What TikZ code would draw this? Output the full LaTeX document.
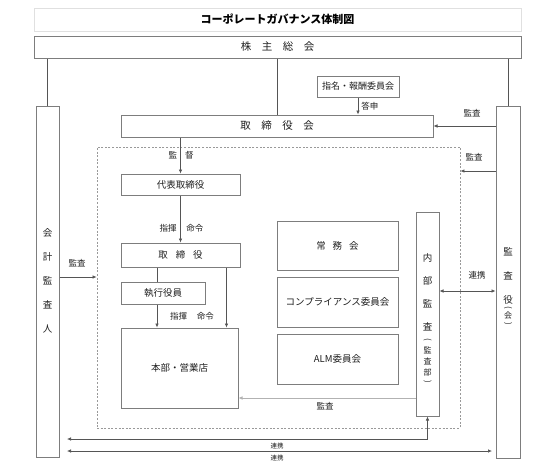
\documentclass[tikz,border=0pt]{standalone}
\usepackage{fontspec}
\setmainfont{Noto Sans CJK JP}
\usetikzlibrary{arrows.meta,positioning,calc}
\definecolor{boxline}{RGB}{125,125,125}
\definecolor{conline}{RGB}{85,85,85}
\definecolor{txt}{RGB}{30,30,30}
\tikzset{%
  box/.style = { draw=boxline, line width=1pt, inner sep=0pt, text=txt, font=\fontsize{9.5}{9.5}\selectfont },
  titlebox/.style = { draw=black!12, line width=1pt, inner sep=0pt, font=\bfseries\fontsize{11}{11}\selectfont },
  area/.style = { draw=black!40, line width=0.8pt, dash pattern=on 2pt off 1.6pt, inner sep=0pt },
  con/.style = { draw=conline, line width=0.7pt },
  tip/.style = { -{Latex[length=4pt,width=3.6pt]} },
  arr/.style = { con, tip },
  darr/.style = { con, {Latex[length=4pt,width=3.6pt]}-{Latex[length=4pt,width=3.6pt]} },
  lab/.style = { text=txt, inner sep=1pt, font=\fontsize{8.5}{8.5}\selectfont },
  tiny/.style = { text=txt, inner sep=0pt, font=\fontsize{6.5}{6.5}\selectfont },
  vch/.style = { text=txt, inner sep=0pt, font=\fontsize{9.5}{9.5}\selectfont },
  vsm/.style = { text=txt, inner sep=0pt, font=\fontsize{8}{8}\selectfont }
}

\begin{document}
\begin{tikzpicture}[x=1pt, y=-1pt]

  \useasboundingbox (0,0) rectangle (533,474);

  % Title and top level
  \node[titlebox, minimum width=487, minimum height=23] (title) at (277.5,19.5) {コーポレートガバナンス体制図};
  \node[box, minimum width=487, minimum height=22, font=\fontsize{10.5}{10.5}\selectfont] (soukai) at (277.5,47) {株　主　総　会};

  \node[box, minimum width=23, minimum height=351] (kaikei) at (47.5,281.5) {};
  \node[box, minimum width=24, minimum height=352] (kansayaku) at (508,282) {};

  \node[box, minimum width=82, minimum height=21, font=\fontsize{9}{9}\selectfont] (shimei) at (358,86.5) {指名・報酬委員会};
  \node[box, minimum width=312, minimum height=22, font=\fontsize{10.5}{10.5}\selectfont] (yakukai) at (277,126) {取　締　役　会};

  % Executive area
  \node[area, minimum width=363, minimum height=281] (area) at (278.5,287.5) {};

  \node[box, minimum width=119, minimum height=21] (daihyo) at (180.5,184.5) {代表取締役};
  \node[box, minimum width=119, minimum height=24] (yaku) at (180.5,255) {取\hspace{8pt}締\hspace{8pt}役};
  \node[box, minimum width=84, minimum height=22] (shikkou) at (163,293) {執行役員};
  \node[box, minimum width=117, minimum height=80] (honbu) at (179.5,368) {本部・営業店};

  \node[box, minimum width=121, minimum height=49] (jomu) at (337.5,245.5) {常\hspace{7pt}務\hspace{7pt}会};
  \node[box, minimum width=121, minimum height=50] (comp) at (337.5,302) {コンプライアンス委員会};
  \node[box, minimum width=121, minimum height=50] (alm) at (337.5,359) {ALM委員会};

  \node[box, minimum width=23, minimum height=204] (naibu) at (427.5,314) {};

  % Vertical texts
  \foreach \ch [count=\i] in {会,計,監,査,人} {
    \node[vch] (kaikei-\i) at (47.5,233+24*\i-24) {\ch};
  }

  \foreach \ch [count=\i] in {監,査,役} {
    \node[vch] (kansa-\i) at (508,252+24*\i-24) {\ch};
  }
  \node[vsm, rotate=-90] (kansa-p1) at (508,308) {(};
  \node[vsm] (kansa-4) at (508,315.5) {会};
  \node[vsm, rotate=-90] (kansa-p2) at (508,323.5) {)};

  \foreach \ch [count=\i] in {内,部,監,査} {
    \node[vch] (naibu-\i) at (427.5,258+23*\i-23) {\ch};
  }
  \node[vsm, rotate=-90] (naibu-p1) at (427.5,340) {(};
  \foreach \ch [count=\i] in {監,査,部} {
    \node[vsm] (naibu-s\i) at (427.5,350+11*\i-11) {\ch};
  }
  \node[vsm, rotate=-90] (naibu-p2) at (427.5,382) {)};

  % Helper levels
  \coordinate (kansa2) at (470,171);
  \coordinate (kansa3) at (77,277);
  \coordinate (renkei1) at (467,291);
  \coordinate (kansa4) at (325,398);
  \coordinate (rkL1) at (67,439);
  \coordinate (rkL2) at (67,451);
  \coordinate (rkR2) at (492,451);

  % Connectors
  \draw[con] (soukai.south -| kaikei.north) -- (kaikei.north);
  \draw[con] (soukai.south -| kansayaku.north) -- (kansayaku.north);
  \draw[con] (soukai.south) -- (soukai.south |- yakukai.north);

  \draw[arr] (shimei.south) -- (shimei.south |- yakukai.north) node[lab, midway, right=2pt] (ltoushin) {答申};
  \draw[arr] (kansayaku.west |- yakukai.east) -- (yakukai.east);
  \node[lab] (lkansa1) at (472,113) {監査};

  \draw[arr] (yakukai.south -| daihyo.north) -- (daihyo.north);
  \node[lab] (lkantoku) at (181,155.5) {監\hspace{8pt}督};

  \draw[arr] (kansayaku.west |- kansa2) -- (area.east |- kansa2);
  \node[lab] (lkansa2) at (474,157) {監査};

  \draw[arr] (daihyo.south) -- (yaku.north);
  \node[lab] (lshiki1) at (181.5,228) {指揮\hspace{10pt}命令};

  \draw[con] ([xshift=-6pt]shikkou.north |- yaku.south) -- ([xshift=-6pt]shikkou.north);
  \draw[arr] ([xshift=-6pt]shikkou.south) -- ([xshift=-6pt]shikkou.south |- honbu.north);
  \draw[arr] ([xshift=-14pt]yaku.south east) -- ([xshift=-14pt]yaku.south east |- honbu.north);
  \node[lab] (lshiki2) at (192,316) {指揮\hspace{10pt}命令};

  \draw[arr] (kaikei.east |- kansa3) -- (area.west |- kansa3);
  \node[lab] (lkansa3) at (77,263) {監査};

  \draw[darr] (naibu.east |- renkei1) -- (kansayaku.west |- renkei1);
  \node[lab] (lrenkei1) at (477,275.5) {連携};

  \draw[con, draw=black!30, tip] (naibu.west |- kansa4) -- (honbu.east |- kansa4);
  \node[lab] (lkansa4) at (325,406.5) {監査};

  \draw[darr] (rkL1) -| (naibu.south);
  \node[tiny] (lrenkei2) at (277,446) {連携};
  \draw[darr] (rkL2) -- (rkR2);
  \node[tiny] (lrenkei3) at (277,458) {連携};

\end{tikzpicture}
\end{document}
